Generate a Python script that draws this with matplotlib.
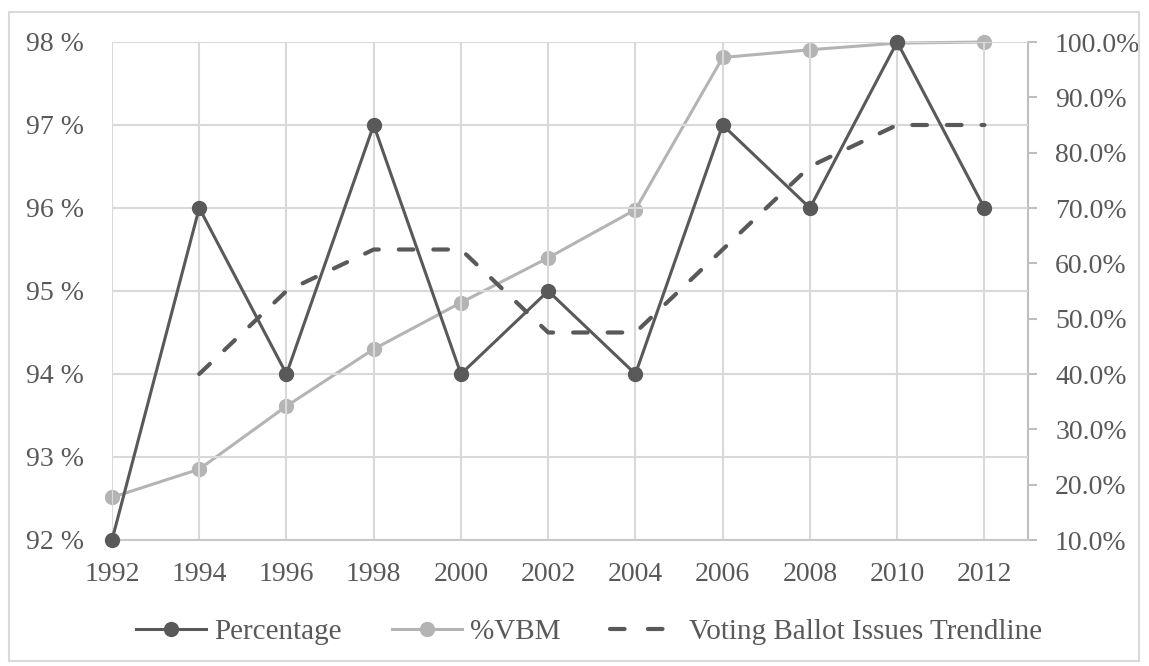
import numpy as np
import matplotlib.pyplot as plt
from matplotlib.patches import Rectangle
from matplotlib.lines import Line2D

years = [1992, 1994, 1996, 1998, 2000, 2002, 2004, 2006, 2008, 2010, 2012]
percentage = [92, 96, 94, 97, 94, 95, 94, 97, 96, 98, 96]
vbm = [17.7, 22.8, 34.2, 44.5, 52.9, 61.0, 69.7, 97.2, 98.6, 99.8, 100.0]
trend_years = [1994, 1996, 1998, 2000, 2002, 2004, 2006, 2008, 2010, 2012]
trend = [94, 95, 95.5, 95.5, 94.5, 94.5, 95.5, 96.5, 97, 97]

plt.rcParams['font.family'] = ['Liberation Serif', 'DejaVu Serif']
txt = '#595959'
dark = '#595959'
light = '#b4b4b4'
grid = '#d9d9d9'
fs = 20

fig = plt.figure(figsize=(11.49, 6.66), dpi=100)
ax = fig.add_axes([112/1149, 1-540/666, (1028-112)/1149, (540-42)/666])
ax2 = ax.twinx()

ax.set_xlim(1992, 2013)
ax.set_ylim(92, 98)
ax2.set_ylim(10, 100)

ax.set_xticks(years)
ax.set_xticklabels([str(y) for y in years])
ax.set_yticks(range(92, 99))
ax.set_yticklabels(['%d %%' % v for v in range(92, 99)])
ax2.set_yticks(range(10, 101, 10))
ax2.set_yticklabels(['%.1f%%' % v for v in range(10, 101, 10)])

ax.grid(True, color=grid, linewidth=1.5)
ax.set_axisbelow(True)
for s in ['top', 'left', 'right']:
    ax.spines[s].set_visible(False)
for s in ['top', 'left', 'bottom']:
    ax2.spines[s].set_visible(False)
ax.spines['bottom'].set_color('#c8c8c8')
ax.spines['bottom'].set_linewidth(1.5)
ax2.spines['right'].set_color('#bfbfbf')
ax2.spines['right'].set_linewidth(1.5)

ax.tick_params(axis='x', length=0, labelsize=fs, colors=txt, pad=16)
ax.tick_params(axis='y', length=0, labelsize=fs, colors=txt, pad=20)
ax2.tick_params(axis='y', length=6.5, width=1.5, labelsize=fs, pad=13,
                colors='#bfbfbf', labelcolor=txt)

l2, = ax2.plot(years, vbm, color=light, linewidth=2.2, marker='o', markersize=10,
               label='%VBM', zorder=2, clip_on=False)
l3, = ax.plot(trend_years, trend, color=dark, linewidth=3, linestyle=(0, (3.5, 4.8)),
              dash_capstyle='round', label='Voting Ballot Issues Trendline', zorder=3)
l1, = ax.plot(years, percentage, color=dark, linewidth=2.2, marker='o', markersize=10,
              label='Percentage', zorder=4, clip_on=False)
ax.set_zorder(ax2.get_zorder() + 1)
ax.patch.set_visible(False)
ax2.patch.set_visible(True)

# legend proxy so exactly two dashes show
l3_leg = Line2D([], [], color=dark, linewidth=3, linestyle=(0, (3.5, 5.6)),
                dash_capstyle='round')

leg = fig.legend([l1, l2, l3_leg], ['Percentage', '%VBM', 'Voting Ballot Issues Trendline'],
                 loc='center', bbox_to_anchor=(589/1149, 1-632/666), ncol=3, frameon=False,
                 fontsize=21, handlelength=2.4, columnspacing=1.7, handletextpad=0.3)
for t in leg.get_texts():
    t.set_color(txt)

fig.patches.append(Rectangle((9/1149, 1-661/666), 1130/1149, 649/666, transform=fig.transFigure,
                             fill=False, edgecolor='#d9d9d9', linewidth=1.5))

fig.savefig('out.png', dpi=100)
